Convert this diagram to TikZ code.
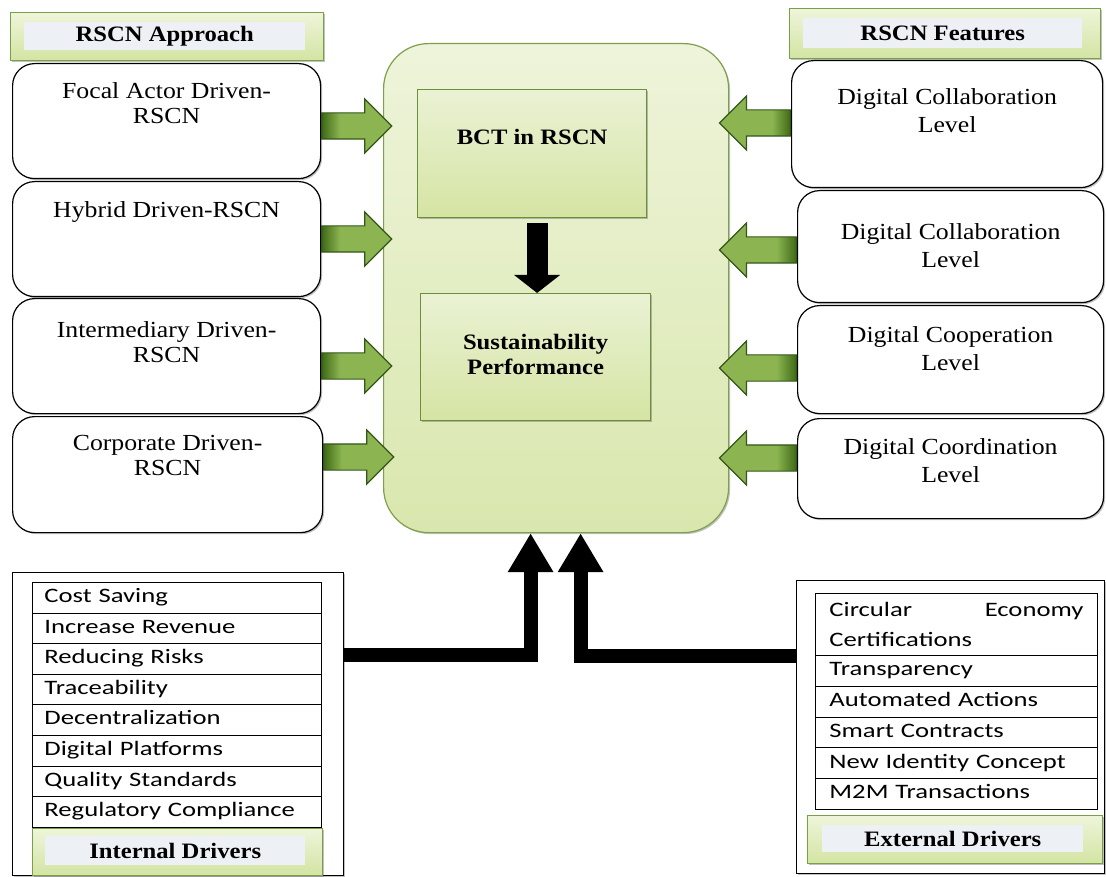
\documentclass[tikz,border=0pt]{standalone}
\usepackage{fontspec}
\setmainfont{Liberation Serif}[FakeStretch=1.12]
\newfontfamily\tabfont{Carlito}[FakeStretch=1.3]
\usetikzlibrary{shapes.arrows,shadows,calc,arrows.meta}
\definecolor{hdrtop}{HTML}{EEF5DA}
\definecolor{hdrbot}{HTML}{D3E4A2}
\definecolor{hdrline}{HTML}{7B9E48}
\definecolor{panel}{HTML}{EDF0F4}
\definecolor{ctop}{HTML}{EEF4DA}
\definecolor{cbot}{HTML}{D9E7AE}
\definecolor{cline}{HTML}{7FA04A}
\definecolor{itop}{HTML}{EAF2D4}
\definecolor{ibot}{HTML}{D5E4A4}
\definecolor{iline}{HTML}{6D8F3B}
\definecolor{glight}{HTML}{8CB552}
\definecolor{gdark}{HTML}{3F6A15}
\definecolor{gline}{HTML}{35561A}
\pgfdeclarehorizontalshading{garrowR}{100bp}{color(0bp)=(gdark); color(25bp)=(gdark); color(38bp)=(glight); color(100bp)=(glight)}
\pgfdeclarehorizontalshading{garrowL}{100bp}{color(0bp)=(glight); color(62bp)=(glight); color(75bp)=(gdark); color(100bp)=(gdark)}
\begin{document}
\begin{tikzpicture}[x=1pt,y=-1pt,
  shd/.style={drop shadow={shadow xshift=1.5pt,shadow yshift=-1.5pt,opacity=0.35,fill=black!70}},
  rbox/.style={draw=black,line width=1.2pt,rounded corners=22pt,fill=white,shd,
    anchor=north west,inner sep=0pt},
  ltxt/.style={anchor=north,inner sep=0pt,align=center,font=\fontsize{23}{25}\selectfont},
  rtxt/.style={anchor=north,inner sep=0pt,align=center,font=\fontsize{23}{28}\selectfont},
  hdr/.style={draw=hdrline,line width=1.2pt,top color=hdrtop,bottom color=hdrbot,shd,
    anchor=north west,inner sep=0pt},
  pnl/.style={fill=panel,anchor=north west,inner sep=0pt},
  htxt/.style={inner sep=0pt,font=\fontsize{22}{25}\selectfont\bfseries},
  cbx/.style={draw=cline,line width=1.2pt,top color=ctop,bottom color=cbot,
    rounded corners=45pt,shd,anchor=north west,inner sep=0pt},
  ibx/.style={draw=iline,line width=1.2pt,top color=itop,bottom color=ibot,shd,
    anchor=north west,inner sep=0pt},
  garR/.style={single arrow,draw=gline,line width=1.2pt,shading=garrowR,
    minimum width=53pt,inner xsep=0pt,inner ysep=12.5pt,
    single arrow head extend=14pt,anchor=tail},
  garL/.style={garR,shape border rotate=180,shading=garrowL},
  blk/.style={draw=black,line width=14pt,-{Triangle[length=39pt,width=43pt]}},
  trow/.style={draw=black,line width=0.9pt,anchor=north west,inner xsep=12pt,inner ysep=0pt,
    align=left,font=\tabfont\fontsize{20.5}{30}\selectfont},
  one/.style={text height=14pt,text depth=4.5pt},
  obox/.style={draw=black,line width=1.3pt,shd,fill=white,anchor=north west,inner sep=0pt}
]
\useasboundingbox (0,0) rectangle (1106,877);

% ---------- left column ----------
\node[hdr,minimum width=313pt,minimum height=48pt] (lh) at (10,12) {};
\node[pnl,minimum width=281pt,minimum height=28pt] (lhp) at (24,22) {};
\node[htxt] (lht) at (lhp.center) {RSCN Approach};

\node[rbox,minimum width=308pt,minimum height=115pt] (l1) at (12,63) {};
\node[rbox,minimum width=308pt,minimum height=115pt] (l2) at (12,181) {};
\node[rbox,minimum width=308pt,minimum height=115pt] (l3) at (12,298) {};
\node[rbox,minimum width=310pt,minimum height=116pt] (l4) at (12,416) {};
\node[ltxt] (l1t) at ($(l1.north)+(0,19.5)$) {Focal Actor Driven-\\RSCN};
\node[ltxt] (l2t) at ($(l2.north)+(0,20.5)$) {Hybrid Driven-RSCN};
\node[ltxt] (l3t) at ($(l3.north)+(0,23.5)$) {Intermediary Driven-\\RSCN};
\node[ltxt] (l4t) at ($(l4.north)+(0,19.5)$) {Corporate Driven-\\RSCN};

% ---------- right column ----------
\node[hdr,minimum width=311pt,minimum height=50pt] (rh) at (789,8) {};
\node[pnl,minimum width=279pt,minimum height=30pt] (rhp) at (803,18) {};
\node[htxt] (rht) at (rhp.center) {RSCN Features};

\node[rbox,minimum width=311pt,minimum height=127pt] (r1) at (791,60) {};
\node[rbox,minimum width=306pt,minimum height=112pt] (r2) at (797,190) {};
\node[rbox,minimum width=306pt,minimum height=108pt] (r3) at (797,305) {};
\node[rbox,minimum width=306pt,minimum height=100pt] (r4) at (797,418) {};
\node[rtxt] (r1t) at ($(r1.north)+(0,28.5)$) {Digital Collaboration\\Level};
\node[rtxt] (r2t) at ($(r2.north)+(0,33.5)$) {Digital Collaboration\\Level};
\node[rtxt] (r3t) at ($(r3.north)+(0,21.5)$) {Digital Cooperation\\Level};
\node[rtxt] (r4t) at ($(r4.north)+(0,20.5)$) {Digital Coordination\\Level};

% ---------- centre ----------
\node[cbx,minimum width=345pt,minimum height=489pt] (cb) at (383,43) {};
\node[ibx,minimum width=229pt,minimum height=128pt] (bct) at (417,89) {};
\node[htxt] (bctt) at ($(bct.north)+(0,48)$) {BCT in RSCN};
\node[ibx,minimum width=230pt,minimum height=127pt] (sus) at (420,293) {};
\node[htxt,align=center] (sust) at ($(sus.center)+(0,-3)$) {Sustainability\\Performance};

\draw[draw=black,line width=21pt,-{Triangle[length=18pt,width=45pt]}]
  ($(sus.north |- bct.south)+(1.5,5)$) -- ($(sus.north)+(1.5,0)$);

% ---------- green arrows ----------
\node[garR,minimum height=70pt] (a1) at (l1.east |- 0,126) {};
\node[garR,minimum height=70pt] (a2) at (l2.east |- 0,239) {};
\node[garR,minimum height=70pt] (a3) at (l3.east |- 0,366) {};
\node[garR,minimum height=70pt] (a4) at (l4.east |- 0,457) {};
\node[garL,minimum height=71pt] (b1) at (r1.west |- 0,123) {};
\node[garL,minimum height=77pt] (b2) at (r2.west |- 0,250) {};
\node[garL,minimum height=77pt] (b3) at (r3.west |- 0,368) {};
\node[garL,minimum height=77pt] (b4) at (r4.west |- 0,458) {};

% ---------- internal drivers ----------
\node[obox,minimum width=331pt,minimum height=303pt] (ib) at (12,572) {};
\foreach \t [count=\i] in {Cost Saving,Increase Revenue,Reducing Risks,Traceability,
  Decentralization,Digital Platforms,Quality Standards,Regulatory Compliance}
  \node[trow,one,text width=265pt,minimum height=30.6pt] (i\i) at (32,{582+30.6*(\i-1)}) {\t};
\node[hdr,minimum width=290pt,minimum height=47pt] (ih) at (32,828) {};
\node[pnl,minimum width=260pt,minimum height=29pt] (ihp) at (45,836) {};
\node[htxt] (iht) at (ihp.center) {Internal Drivers};

% ---------- external drivers ----------
\node[obox,minimum width=308pt,minimum height=293pt] (eb) at (796,580) {};
\node[trow,text width=254pt,inner xsep=14pt,minimum height=62pt] (e1) at (815,593)
  {Circular\hfill Economy\\Certifications};
\foreach \t [count=\i from 2] in {Transparency,Automated Actions,Smart Contracts,
  New Identity Concept,M2M Transactions}
  \node[trow,one,text width=254pt,inner xsep=14pt,minimum height=30.8pt] (e\i) at (815,{655+30.8*(\i-2)}) {\t};
\node[hdr,minimum width=295pt,minimum height=48pt] (eh) at (807,815) {};
\node[pnl,minimum width=261pt,minimum height=27pt] (ehp) at (822,825) {};
\node[htxt] (eht) at (ehp.center) {External Drivers};

% ---------- black connectors ----------
\draw[blk] (ib.east |- 0,655) -| ($(cb.south)+(-25.5,0)$);
\draw[blk] (eb.west |- 0,656) -| ($(cb.south)+(24.5,0)$);
\end{tikzpicture}
\end{document}
